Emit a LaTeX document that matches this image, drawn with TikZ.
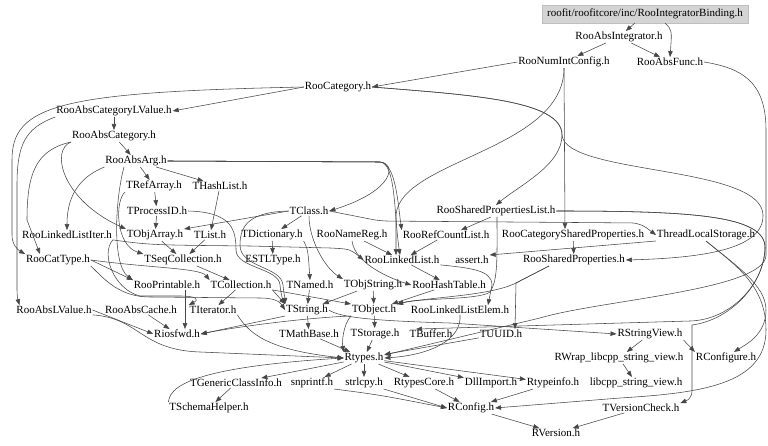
\documentclass[tikz,border=0pt]{standalone}
\usepackage{fontspec}
\setmainfont{Liberation Serif}
\usetikzlibrary{arrows.meta}
\begin{document}
\begin{tikzpicture}[x=1pt,y=-1pt,
  nd/.style={font=\fontsize{11}{13}\selectfont, inner sep=1pt, outer sep=0pt},
  ed/.style={draw=black!72, line width=0.55pt, -{Triangle[length=6pt,width=4.5pt]}},
  ]
\fill[white] (0,0) rectangle (768,446);
\useasboundingbox (0,0) rectangle (768,446);

% ---------- nodes ----------
\node[nd, fill=black!17, draw=black!25, inner xsep=5pt, minimum height=18pt] (bind) at (645,14) {roofit/roofitcore/inc/RooIntegratorBinding.h};
\node[nd] (absint) at (619,37) {RooAbsIntegrator.h};
\node[nd] (numint) at (564,62) {RooNumIntConfig.h};
\node[nd] (absfunc) at (670,62) {RooAbsFunc.h};
\node[nd] (cat) at (338,87) {RooCategory.h};
\node[nd] (abscatlv) at (114,111) {RooAbsCategoryLValue.h};
\node[nd] (abscat) at (114,136) {RooAbsCategory.h};
\node[nd] (absarg) at (136,161) {RooAbsArg.h};
\node[nd] (trefarray) at (154,186) {TRefArray.h};
\node[nd] (thashlist) at (220,186) {THashList.h};
\node[nd] (tprocessid) at (157,211) {TProcessID.h};
\node[nd] (tclass) at (309,211) {TClass.h};
\node[nd] (sharedlist) at (496,211) {RooSharedPropertiesList.h};
\node[nd] (llistiter) at (67,235) {RooLinkedListIter.h};
\node[nd] (tobjarray) at (155,235) {TObjArray.h};
\node[nd] (tlist) at (210,235) {TList.h};
\node[nd] (tdict) at (272,235) {TDictionary.h};
\node[nd] (namereg) at (352,235) {RooNameReg.h};
\node[nd] (refcount) at (446,235) {RooRefCountList.h};
\node[nd] (catshared) at (573,235) {RooCategorySharedProperties.h};
\node[nd] (tls) at (706,235) {ThreadLocalStorage.h};
\node[nd] (cattype) at (58,260) {RooCatType.h};
\node[nd] (tseq) at (183,260) {TSeqCollection.h};
\node[nd] (estl) at (273,260) {ESTLType.h};
\node[nd] (llist) at (402,260) {RooLinkedList.h};
\node[nd] (assert) at (472,260) {assert.h};
\node[nd] (sharedprops) at (574,260) {RooSharedProperties.h};
\node[nd] (printable) at (167,285) {RooPrintable.h};
\node[nd] (tcoll) at (241,285) {TCollection.h};
\node[nd] (tnamed) at (310,285) {TNamed.h};
\node[nd] (tobjstring) at (373,285) {TObjString.h};
\node[nd] (hashtable) at (449,285) {RooHashTable.h};
\node[nd] (abslv) at (54,310) {RooAbsLValue.h};
\node[nd] (abscache) at (141,310) {RooAbsCache.h};
\node[nd] (titer) at (213,310) {TIterator.h};
\node[nd] (tstring) at (307,310) {TString.h};
\node[nd] (tobject) at (374,310) {TObject.h};
\node[nd] (llelem) at (460,310) {RooLinkedListElem.h};
\node[nd] (riosfwd) at (177,334) {Riosfwd.h};
\node[nd] (tmath) at (309,334) {TMathBase.h};
\node[nd] (tstorage) at (375,334) {TStorage.h};
\node[nd] (tbuffer) at (431,334) {TBuffer.h};
\node[nd] (tuuid) at (501,334) {TUUID.h};
\node[nd] (rsv) at (650,334) {RStringView.h};
\node[nd] (rtypes) at (364,358) {Rtypes.h};
\node[nd] (rwrap) at (619,358) {RWrap\_libcpp\_string\_view.h};
\node[nd] (rconfigure) at (726,358) {RConfigure.h};
\node[nd] (tgci) at (236,383) {TGenericClassInfo.h};
\node[nd] (snprintf) at (312,383) {snprintf.h};
\node[nd] (strlcpy) at (364,383) {strlcpy.h};
\node[nd] (rtcore) at (424,383) {RtypesCore.h};
\node[nd] (dllimport) at (491,383) {DllImport.h};
\node[nd] (rtinfo) at (553,383) {Rtypeinfo.h};
\node[nd] (libcpp) at (636,383) {libcpp\_string\_view.h};
\node[nd] (tschema) at (209,408) {TSchemaHelper.h};
\node[nd] (rconfig) at (471,408) {RConfig.h};
\node[nd] (tvc) at (641,408) {TVersionCheck.h};
\node[nd] (rversion) at (556,433) {RVersion.h};

% ---------- edges: top ----------
\draw[ed] (bind) -- (absint);
\draw[ed] ([xshift=20pt]bind.south) .. controls (672,30) .. (absfunc.north);
\draw[ed] (absint) -- (numint);
\draw[ed] (absint) -- (absfunc);
\draw[ed] (numint.west) -- (cat.east);
\draw[ed] (numint.south) -- ([xshift=-8pt]catshared.north);
\draw[ed] (numint.south) .. controls (564,150) and (400,160) .. (396,215) -- ([xshift=-6pt]llist.north);
\draw[ed] (cat.east) .. controls (470,95) and (562,100) .. (562,135) .. controls (562,165) and (520,185) .. (sharedlist.north);
\draw[ed] (cat.east) .. controls (470,95) and (562,100) .. (562,135) .. controls (565,175) and (762,165) .. (763,215) .. controls (764,250) and (700,258) .. (sharedprops.east);
\draw[ed] (cat.west) -- (abscatlv.east);
\draw[ed] (cat.west) .. controls (60,92) and (12,105) .. (12,160) -- (12,235) .. controls (12,245) and (18,250) .. (cattype.north west);
\draw[ed] (abscatlv) -- (abscat);
\draw[ed] (abscatlv.south west) .. controls (25,128) and (17,145) .. (17,185) -- (17,290) .. controls (17,296) and (18,300) .. ([xshift=4pt]abslv.north west);
\draw[ed] (abscat) -- (absarg);
\draw[ed] (abscat.south west) .. controls (50,150) and (62,200) .. (tobjarray.north west);
\draw[ed] (abscat.south west) .. controls (35,150) and (27,175) .. (27,220) -- ([xshift=-18pt]cattype.north);

% ---------- RooAbsArg ----------
\draw[ed] (absarg) -- (trefarray);
\draw[ed] (absarg) -- (thashlist);
\draw[ed] (absarg.south west) .. controls (85,175) and (67,190) .. (llistiter.north);
\draw[ed] ([xshift=-12pt]absarg.south) .. controls (115,200) and (112,265) .. (printable.north west);
\draw[ed] (absarg.east) -- (380,162) .. controls (396,163) and (396,190) .. (tclass.east);
\draw[ed] (absarg.east) -- (380,162) .. controls (396,163) and (398,205) .. (refcount.north west);
\draw[ed] (absarg.east) -- (380,162) .. controls (396,163) and (394,215) .. ([xshift=-2pt]llist.north);

% ---------- middle ----------
\draw[ed] (trefarray) -- (tprocessid);
\draw[ed] (trefarray.south west) .. controls (115,200) and (115,245) .. (tseq.north west);
\draw[ed] (tprocessid) -- (tobjarray);
\draw[ed] (tprocessid.east) .. controls (232,212) and (236,230) .. (236,250) .. controls (236,268) and (279,268) .. (280,285) .. controls (281,295) and (283,300) .. (tstring.north west);
\draw[ed] (tclass.west) .. controls (250,212) and (240,225) .. (240,245) .. controls (240,268) and (281,266) .. (283,285) .. controls (284,295) and (285,298) .. (tstring.north west);
\draw[ed] (thashlist) -- (tlist);
\draw[ed] (tlist) -- (tseq);
\draw[ed] (tobjarray) -- (tseq);
\draw[ed] (tseq) -- (tcoll);
\draw[ed] (tcoll) -- (titer);
\draw[ed] (tcoll.south east) -- (tobject.north west);
\draw[ed] (tcoll.south east) -- (tstring.north west);
\draw[ed] (tclass.west) -- (tobjarray.north east);
\draw[ed] (tclass) -- (tdict);
\draw[ed] (tclass.south) .. controls (309,240) and (325,268) .. (tobjstring.north west);
\draw[ed, rounded corners=8pt] (tclass.east) -- (380,221) -- (640,223) -- (tls.west);
\draw[ed] (tdict) -- (estl);
\draw[ed] (tdict.south east) .. controls (308,250) .. (tnamed.north);
\draw[ed] (tnamed) -- (tstring);
\draw[ed] (tobjstring) -- (tstring);
\draw[ed] (tobjstring) -- (tobject);
\draw[ed] (namereg) -- (llist);
\draw[ed] (namereg.south) .. controls (355,265) and (395,280) .. (hashtable.west);
\draw[ed] (refcount) -- (llist);
\draw[ed] (llist) -- (hashtable);
\draw[ed] (llist.south east) .. controls (470,268) and (492,270) .. (492,285) -- ([xshift=28pt]llelem.north);
\draw[ed] (hashtable) -- (tobject);
\draw[ed] ([xshift=-5pt]sharedlist.south) -- ([xshift=15pt]refcount.north);
\draw[ed] ([xshift=1pt]sharedlist.south) .. controls (497,260) and (498,280) .. (490,292) .. controls (480,300) and (420,298) .. (tobject.north east);
\draw[ed] (sharedlist.east) .. controls (690,211) and (766,215) .. (765,248) .. controls (764,285) and (730,320) .. (690,321) -- ([xshift=-15pt]tbuffer.north);
\draw[ed] (sharedlist.east) .. controls (690,211) and (766,215) .. (765,248) .. controls (764,285) and (730,320) .. (692,325) -- (692,390) .. controls (692,398) and (688,400) .. (tvc.north east);
\draw[ed] (catshared) -- (sharedprops);
\draw[ed] (tls.south west) -- ([yshift=5pt]assert.east);
\draw[ed] (tls.south) .. controls (735,265) and (766,285) .. (766,310) .. controls (766,335) and (745,345) .. ([xshift=8pt]rconfigure.north);
\draw[ed] (tls.south) .. controls (735,265) and (766,285) .. (766,330) .. controls (766,385) and (700,393) .. (620,398) -- (rconfig.east);
\draw[ed] ([xshift=-25pt]sharedprops.south) -- (516,283) -- ([xshift=14pt]tuuid.north);
\draw[ed] ([xshift=-25pt]sharedprops.south) -- (516,283) .. controls (490,296) and (430,297) .. (tobject.north east);
\draw[ed] (absfunc.east) .. controls (740,68) and (766,80) .. (766,130) -- (766,255) .. controls (766,290) and (600,300) .. (540,318) -- ([yshift=3pt]rtypes.east);

% ---------- lower ----------
\draw[ed] (rsv) -- (rwrap);
\draw[ed] (rsv.south east) -- (rconfigure.north west);
\draw[ed] (rwrap) -- (libcpp);
\draw[ed] (tstring) -- (tmath);
\draw[ed] (tstring.south west) -- (riosfwd.east);
\draw[ed] (tstring.east) .. controls (340,318) and (380,321) .. (450,323) -- (rsv.west);
\draw[ed] (tobject.south west) .. controls (343,325) and (342,342) .. (rtypes.north west);
\draw[ed] (tobject) -- (tstorage);
\draw[ed] (tobject.south west) .. controls (300,318) and (230,328) .. (riosfwd.east);
\draw[ed] (tmath) -- (rtypes);
\draw[ed] (tstorage) -- (rtypes);
\draw[ed] (tuuid) -- (rtypes);
\draw[ed] (llelem.south) .. controls (462,340) and (430,355) .. (rtypes.east);

\draw[ed] (cattype.east) -- (printable.north west);
\draw[ed] (cattype.east) .. controls (150,268) and (200,268) .. (tcoll.north west);
\draw[ed] (cattype.south east) .. controls (105,280) and (120,297) .. (150,297) -- (260,298) .. controls (275,298) and (280,302) .. (tstring.west);
\draw[ed] (llistiter.south east) .. controls (100,255) and (115,290) .. (140,296) -- (180,296) .. controls (195,296) and (200,299) .. (titer.north west);
\draw[ed] (llistiter.south east) .. controls (150,245) .. (250,246) -- (330,248) .. controls (350,249) .. (llist.west);
\draw[ed] ([xshift=18pt]printable.south) -- ([xshift=8pt]riosfwd.north);
\draw[ed] (abslv.east) -- (riosfwd.west);
\draw[ed] (abslv.south east) .. controls (140,318) and (140,350) .. (200,352) -- (rtypes.west);
\draw[ed] (abscache) -- (riosfwd);
\draw[ed] (titer.south east) .. controls (250,335) and (270,350) .. (rtypes.west);

\draw[ed] (rtypes) -- (tgci);
\draw[ed] (rtypes) -- (snprintf);
\draw[ed] (rtypes) -- (strlcpy);
\draw[ed] (rtypes) -- (rtcore);
\draw[ed] (rtypes) -- (dllimport);
\draw[ed] (rtypes) -- (rtinfo);
\draw[ed] (tgci) -- (tschema);
\draw[ed] (tschema.north west) .. controls (170,390) and (180,368) .. (rtypes.west);
\draw[ed] (snprintf.south east) .. controls (380,395) .. (rconfig.west);
\draw[ed] (strlcpy.south east) -- (rconfig.west);
\draw[ed] (rtcore) -- (rconfig);
\draw[ed] (rtinfo) -- (rconfig);
\draw[ed] (rconfig) -- (rversion);
\draw[ed] (tvc) -- (rversion);
\end{tikzpicture}
\end{document}
